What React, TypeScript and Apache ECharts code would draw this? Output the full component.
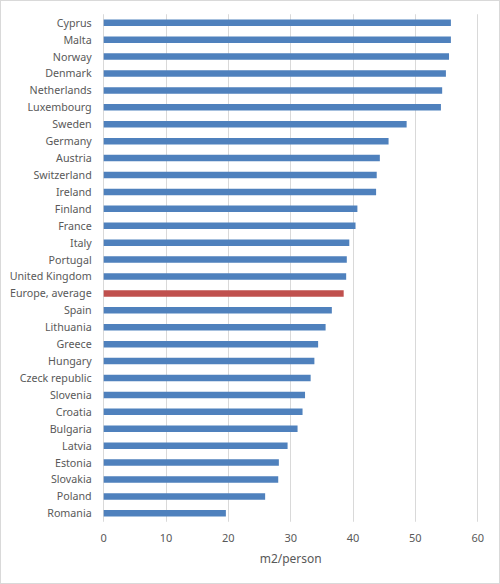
import React, { useEffect, useRef } from "react";
import * as echarts from "echarts";

const countries = [
  "Cyprus", "Malta", "Norway", "Denmark", "Netherlands", "Luxembourg", "Sweden",
  "Germany", "Austria", "Switzerland", "Ireland", "Finland", "France", "Italy",
  "Portugal", "United Kingdom", "Europe, average", "Spain", "Lithuania", "Greece",
  "Hungary", "Czeck republic", "Slovenia", "Croatia", "Bulgaria", "Latvia",
  "Estonia", "Slovakia", "Poland", "Romania",
];
const values = [
  55.7, 55.7, 55.4, 54.9, 54.3, 54.1, 48.6,
  45.7, 44.3, 43.8, 43.7, 40.7, 40.4, 39.4,
  39.0, 38.9, 38.5, 36.6, 35.6, 34.4,
  33.8, 33.2, 32.3, 31.9, 31.1, 29.5,
  28.1, 28.0, 25.9, 19.6,
];
const highlight = "Europe, average";
const xTicks = { min: 0, max: 60, interval: 10 };
const axisName = "m2/person";

export default function App() {
  const ref = useRef<HTMLDivElement>(null);
  useEffect(() => {
    if (!ref.current) return;
    const chart = echarts.init(ref.current, undefined, { renderer: "svg" });
    const font = "'Noto Sans', 'Open Sans', sans-serif";
    chart.setOption({
      animation: false,
      backgroundColor: "#ffffff",
      grid: { left: 102.7, right: 21.3, top: 13.25, bottom: 61.25, containLabel: false },
      xAxis: {
        type: "value",
        min: xTicks.min,
        max: xTicks.max,
        interval: xTicks.interval,
        axisLine: { show: false },
        axisTick: { show: false },
        splitLine: { show: true, lineStyle: { color: "#d9d9d9", width: 1 } },
        axisLabel: { color: "#595959", fontSize: 11, fontFamily: font, margin: 10 },
        name: axisName,
        nameLocation: "middle",
        nameGap: 31,
        nameTextStyle: { color: "#595959", fontSize: 12, fontFamily: font },
      },
      yAxis: {
        type: "category",
        data: countries,
        inverse: true,
        axisLine: { show: false },
        axisTick: { show: false },
        splitLine: { show: false },
        axisLabel: { color: "#595959", fontSize: 10.7, fontFamily: font, margin: 12 },
      },
      series: [
        {
          type: "bar",
          barWidth: 6.5,
          data: countries.map((c, i) => ({
            value: values[i],
            itemStyle: { color: c === highlight ? "#c0504d" : "#4f81bd" },
          })),
        },
      ],
    });
    return () => chart.dispose();
  }, []);
  return (
    <div
      style={{
        position: "fixed",
        left: 0,
        top: 0,
        width: 500,
        height: 584,
        boxSizing: "border-box",
        border: "1px solid #d9d9d9",
        background: "#fff",
      }}
    >
      <div ref={ref} style={{ width: 498, height: 582 }} />
    </div>
  );
}
